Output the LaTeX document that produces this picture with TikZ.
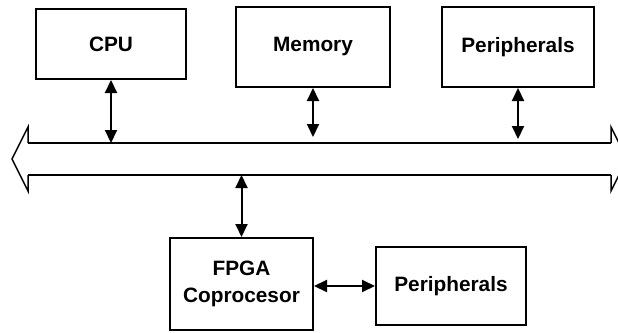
\documentclass[tikz,border=0pt]{standalone}
\usepackage{fontspec}
\setmainfont{Liberation Sans}
\usetikzlibrary{arrows.meta}
\tikzset{
  blk/.style={draw, line width=2pt, inner sep=0pt, align=center,
    font=\fontsize{20.8}{27}\selectfont\bfseries},
  link/.style={line width=2pt, {Triangle[length=13pt,width=12pt]}-{Triangle[length=13pt,width=12pt]}},
  busline/.style={line width=2pt},
  bushead/.style={line width=1.5pt, line join=miter},
}
\begin{document}
\begin{tikzpicture}[x=1pt,y=-1pt]
\useasboundingbox (0,0) rectangle (618,332);
\clip (0,0) rectangle (618,332);
% boxes
\node[blk, minimum width=150pt, minimum height=70pt] (cpu) at (111,44) {CPU};
\node[blk, minimum width=154pt, minimum height=80pt] (mem) at (313,47) {Memory};
\node[blk, minimum width=152pt, minimum height=80pt] (per1) at (518,47) {Peripherals};
\node[blk, minimum width=143pt, minimum height=92pt] (fpga) at (241.5,284) {FPGA\\Coprocesor};
\node[blk, minimum width=150pt, minimum height=78pt] (per2) at (451,286) {Peripherals};
% bus
\coordinate (tl) at (28,143);
\coordinate (tr) at (611,143);
\coordinate (bl) at (28,175);
\coordinate (br) at (611,175);
\draw[busline] (tl) -- (tr);
\draw[busline] (bl) -- (br);
\draw[bushead] (tl) -- (28,127) -- (12,159) -- (28,191) -- (bl);
\draw[bushead] (tr) -- (611,127) -- (627,159) -- (611,191) -- (br);
% connectors
\coordinate (c1) at (111,143);
\coordinate (c2) at (313,137);
\coordinate (c3) at (518,139);
\coordinate (c4) at (241.5,175);
\draw[link] (cpu.south) -- (c1);
\draw[link] (mem.south) -- (c2);
\draw[link] (per1.south) -- (c3);
\draw[link] (c4) -- (fpga.north);
\draw[link] (fpga.east |- per2.west) -- (per2.west);
\end{tikzpicture}
\end{document}
